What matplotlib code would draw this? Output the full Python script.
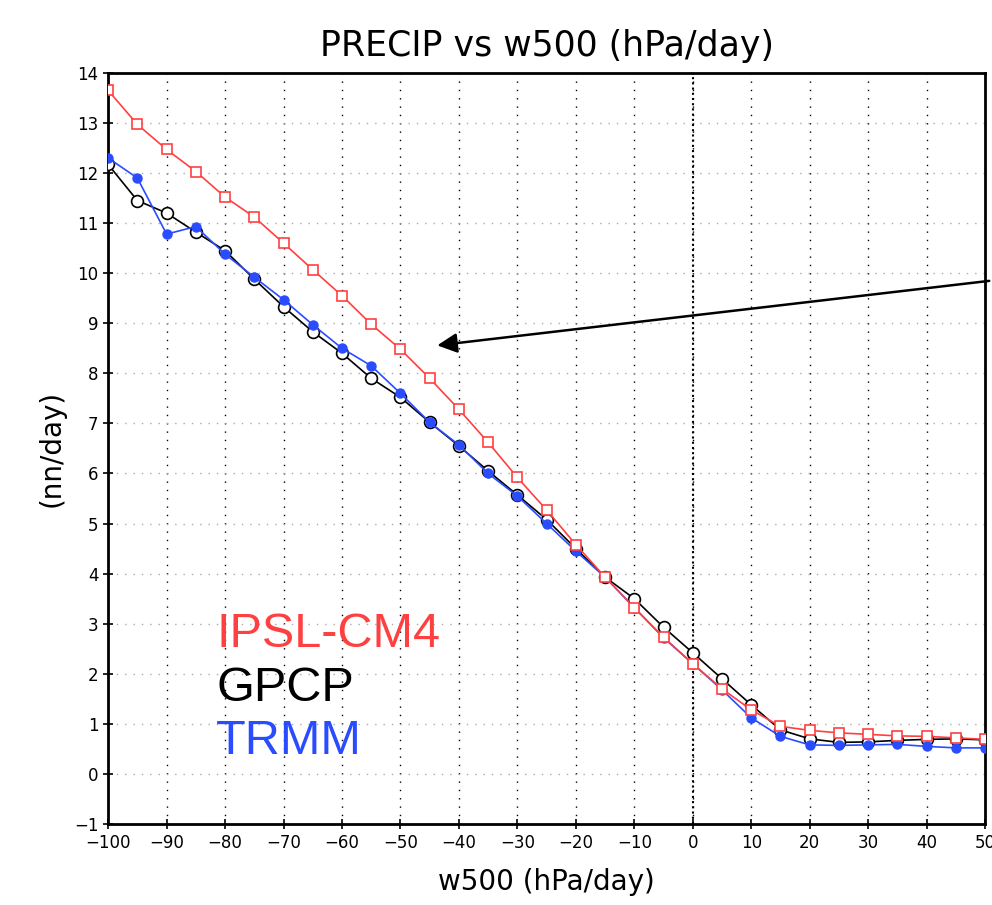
import matplotlib.pyplot as plt
import numpy as np

# w500 bins (hPa/day)
w500 = np.arange(-100, 55, 5)

# precip (mm/day) per bin
ipsl = [13.65, 12.97, 12.47, 12.03, 11.52, 11.12, 10.6, 10.07, 9.55, 8.98, 8.48,
        7.9, 7.28, 6.62, 5.92, 5.27, 4.58, 3.93, 3.32, 2.73, 2.2, 1.7, 1.28,
        0.95, 0.87, 0.82, 0.79, 0.76, 0.75, 0.72, 0.69]
gpcp = [12.17, 11.45, 11.2, 10.82, 10.45, 9.88, 9.33, 8.83, 8.4, 7.9, 7.52,
        7.02, 6.55, 6.05, 5.57, 5.08, 4.5, 3.93, 3.5, 2.93, 2.42, 1.9, 1.38,
        0.88, 0.7, 0.63, 0.64, 0.67, 0.69, 0.7, 0.68]
trmm = [12.3, 11.9, 10.78, 10.93, 10.38, 9.92, 9.47, 8.97, 8.5, 8.15, 7.6,
        7.02, 6.57, 6.0, 5.55, 5.0, 4.45, 3.93, 3.32, 2.72, 2.2, 1.68, 1.12,
        0.75, 0.58, 0.57, 0.58, 0.59, 0.55, 0.52, 0.52]

red = '#ff4040'
blue = '#2a4cff'

fig = plt.figure(figsize=(9.92, 9.05), dpi=100)
ax = fig.add_axes([0.109, 0.0895, 0.884, 0.830])

ax.plot(w500, gpcp, color='black', lw=1.2, marker='o', ms=8.5,
        mfc='white', mec='black', mew=1.2, zorder=3)
ax.plot(w500, trmm, color=blue, lw=1.2, marker='o', ms=6.5,
        mfc=blue, mec=blue, zorder=4)
ax.plot(w500, ipsl, color=red, lw=1.2, marker='s', ms=7.5,
        mfc='white', mec=red, mew=1.2, zorder=5)

ax.set_xlim(-100, 50)
ax.set_ylim(-1, 14)
ax.set_xticks(np.arange(-100, 51, 10))
ax.set_yticks(np.arange(-1, 15, 1))
ax.set_xticklabels([str(v).replace('-', '\u2212') for v in range(-100, 51, 10)])
ax.set_yticklabels([str(v).replace('-', '\u2212') for v in range(-1, 15)])
ax.tick_params(direction='inout', length=7, width=1.2, labelsize=12)

ax.grid(axis='x', color='black', ls=(0, (1, 5)), lw=1.0)
ax.grid(axis='y', color='#aaaaaa', ls=(0, (1, 5)), lw=1.0)
ax.axvline(0, color='black', ls=(0, (1, 1.5)), lw=1.5, zorder=2)

for s in ax.spines.values():
    s.set_linewidth(2)

ax.set_title('PRECIP vs w500 (hPa/day)', fontsize=25, pad=12)
ax.set_xlabel('w500 (hPa/day)', fontsize=20, labelpad=12)
ax.set_ylabel('(nn/day)', fontsize=20, labelpad=6)

fig.text(0.218, 0.285, 'IPSL-CM4', color=red, fontsize=35, family='Liberation Sans')
fig.text(0.218, 0.225, 'GPCP', color='black', fontsize=35, family='Liberation Sans')
fig.text(0.218, 0.167, 'TRMM', color=blue, fontsize=35, family='Liberation Sans')

# arrow coming in from the right edge
fig.patches.append(plt.matplotlib.patches.FancyArrowPatch(
    (1.0, 0.69), (0.438, 0.618), transform=fig.transFigure,
    arrowstyle='-|>', mutation_scale=30, lw=1.8, color='black'))

fig.savefig('out.png', dpi=100)
